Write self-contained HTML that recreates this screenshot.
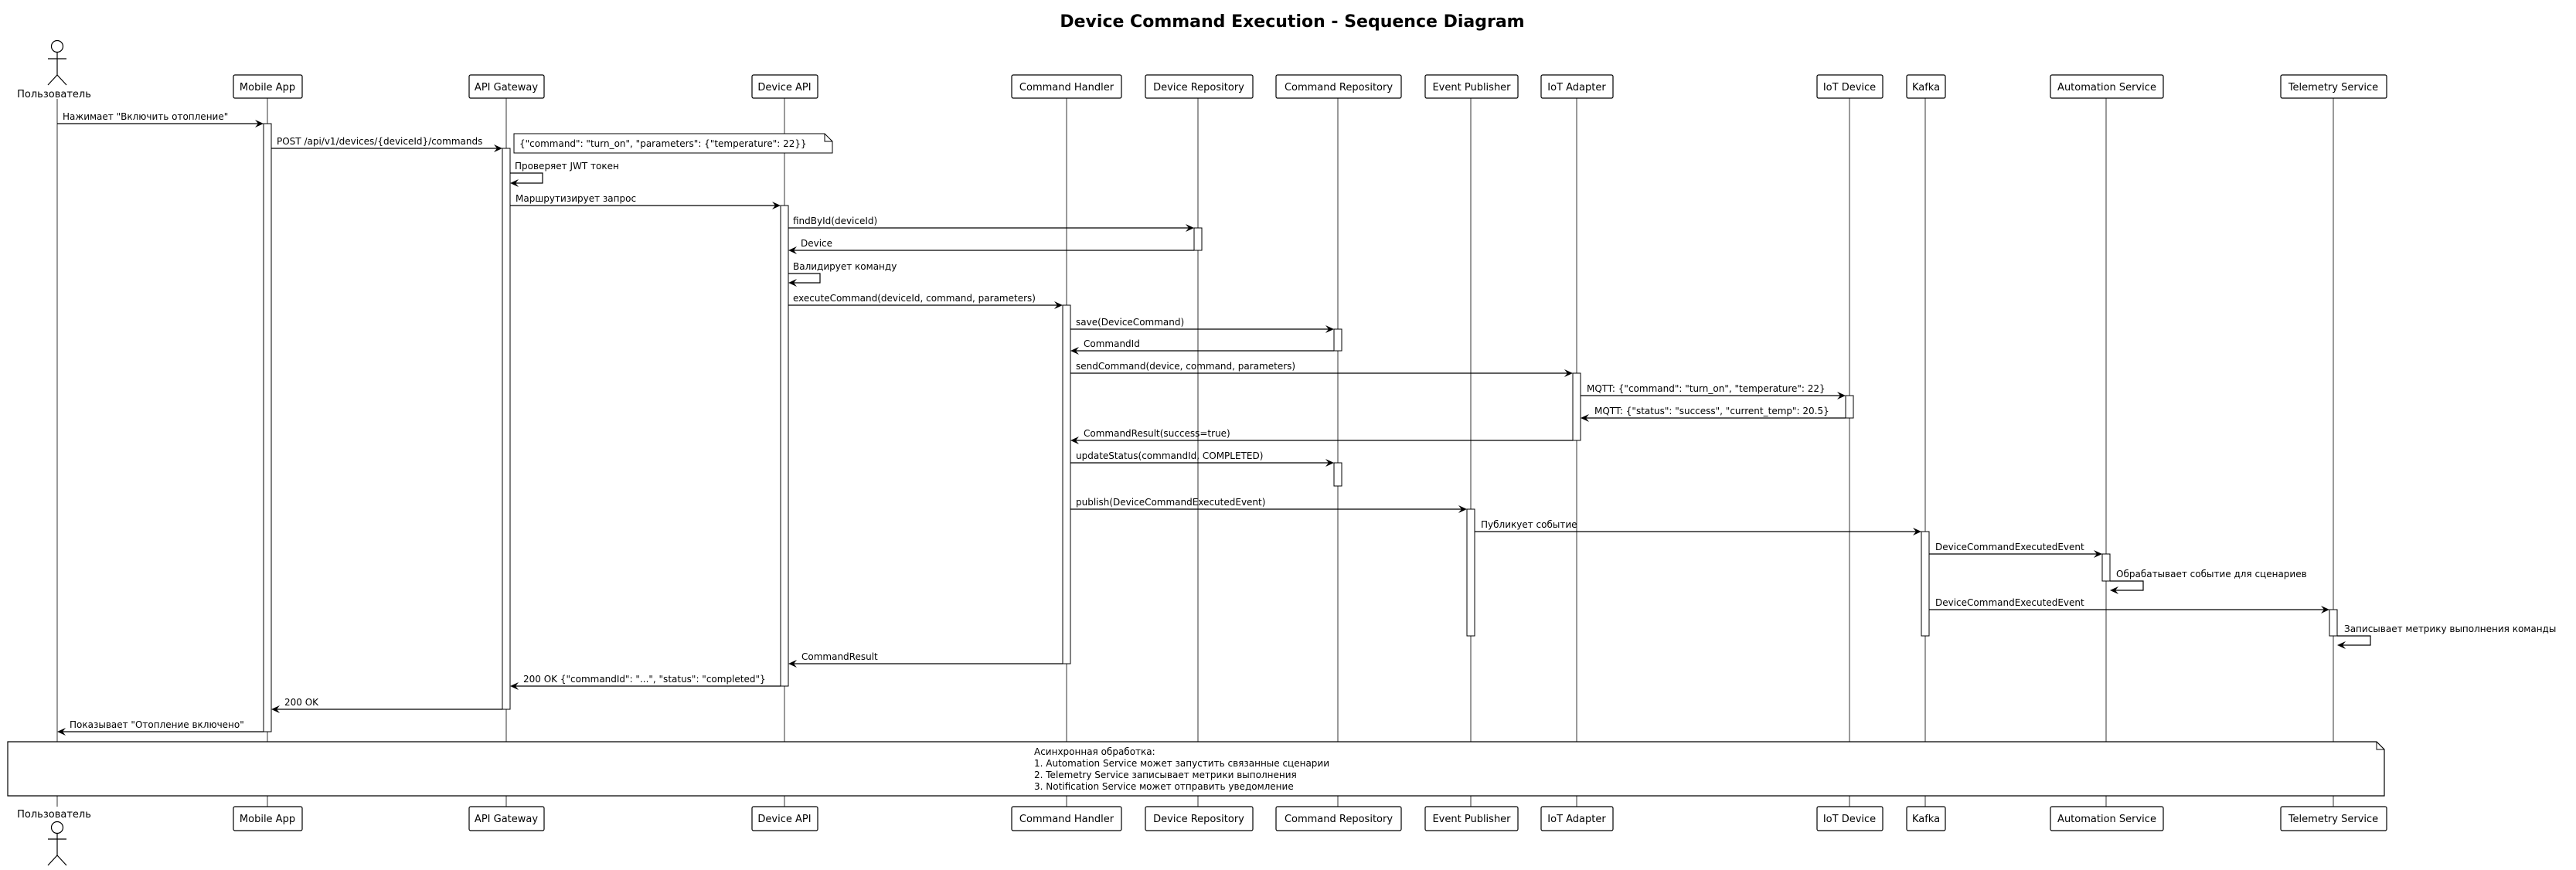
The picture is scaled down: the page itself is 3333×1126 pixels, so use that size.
<!DOCTYPE html>
<html><head><meta charset="utf-8"><style>
html,body{margin:0;padding:0;background:#fff;}
svg{display:block;}
text{font-family:"DejaVu Sans","Liberation Sans",sans-serif;font-size:12px;fill:#000;}
.t{font-size:22px;font-weight:bold;}
.p{font-size:13px;}
.ll{stroke:#000;stroke-width:0.8;}
.box{fill:#fff;stroke:#000;stroke-width:1.2;}
.act{fill:#fff;stroke:#000;stroke-width:1;}
.m{stroke:#000;stroke-width:1.2;fill:none;}
.ah{fill:#000;}
</style></head><body>
<svg width="3333" height="1126" viewBox="0 0 3333 1126" xmlns="http://www.w3.org/2000/svg">
<text class="t" x="1672" y="35" text-anchor="middle">Device Command Execution - Sequence Diagram</text>

<!-- lifelines -->
<g class="ll">
<line x1="74" y1="128" x2="74" y2="1044"/>
<line x1="346" y1="127" x2="346" y2="1044"/>
<line x1="655" y1="127" x2="655" y2="1044"/>
<line x1="1015" y1="127" x2="1015" y2="1044"/>
<line x1="1380" y1="127" x2="1380" y2="1044"/>
<line x1="1550" y1="127" x2="1550" y2="1044"/>
<line x1="1731" y1="127" x2="1731" y2="1044"/>
<line x1="1903" y1="127" x2="1903" y2="1044"/>
<line x1="2040" y1="127" x2="2040" y2="1044"/>
<line x1="2393" y1="127" x2="2393" y2="1044"/>
<line x1="2491" y1="127" x2="2491" y2="1044"/>
<line x1="2725" y1="127" x2="2725" y2="1044"/>
<line x1="3019" y1="127" x2="3019" y2="1044"/>
</g>

<!-- actor top -->
<g fill="none" stroke="#000" stroke-width="1.2">
<circle cx="74" cy="60" r="7.5" fill="#fff"/>
<line x1="74" y1="68" x2="74" y2="97"/>
<line x1="62" y1="76" x2="86" y2="76"/>
<line x1="74" y1="97" x2="62" y2="110"/>
<line x1="74" y1="97" x2="86" y2="110"/>
</g>
<text class="p" x="70" y="126" text-anchor="middle">Пользователь</text>
<!-- actor bottom -->
<text class="p" x="70" y="1058" text-anchor="middle">Пользователь</text>
<g fill="none" stroke="#000" stroke-width="1.2">
<circle cx="74" cy="1071" r="7.5" fill="#fff"/>
<line x1="74" y1="1079" x2="74" y2="1107"/>
<line x1="62" y1="1086" x2="86" y2="1086"/>
<line x1="74" y1="1107" x2="62" y2="1120"/>
<line x1="74" y1="1107" x2="86" y2="1120"/>
</g>

<!-- participant boxes top & bottom -->
<g>
<rect class="box" x="302" y="97" width="89" height="30" rx="2"/><text class="p" x="346" y="117" text-anchor="middle">Mobile App</text>
<rect class="box" x="607" y="97" width="97" height="30" rx="2"/><text class="p" x="655" y="117" text-anchor="middle">API Gateway</text>
<rect class="box" x="973" y="97" width="85" height="30" rx="2"/><text class="p" x="1015" y="117" text-anchor="middle">Device API</text>
<rect class="box" x="1309" y="97" width="142" height="30" rx="2"/><text class="p" x="1380" y="117" text-anchor="middle">Command Handler</text>
<rect class="box" x="1482" y="97" width="139" height="30" rx="2"/><text class="p" x="1551" y="117" text-anchor="middle">Device Repository</text>
<rect class="box" x="1651" y="97" width="162" height="30" rx="2"/><text class="p" x="1732" y="117" text-anchor="middle">Command Repository</text>
<rect class="box" x="1844" y="97" width="120" height="30" rx="2"/><text class="p" x="1904" y="117" text-anchor="middle">Event Publisher</text>
<rect class="box" x="1994" y="97" width="93" height="30" rx="2"/><text class="p" x="2040" y="117" text-anchor="middle">IoT Adapter</text>
<rect class="box" x="2351" y="97" width="85" height="30" rx="2"/><text class="p" x="2393" y="117" text-anchor="middle">IoT Device</text>
<rect class="box" x="2467" y="97" width="50" height="30" rx="2"/><text class="p" x="2492" y="117" text-anchor="middle">Kafka</text>
<rect class="box" x="2653" y="97" width="146" height="30" rx="2"/><text class="p" x="2726" y="117" text-anchor="middle">Automation Service</text>
<rect class="box" x="2951" y="97" width="137" height="30" rx="2"/><text class="p" x="3019" y="117" text-anchor="middle">Telemetry Service</text>

<rect class="box" x="302" y="1044" width="89" height="31" rx="2"/><text class="p" x="346" y="1064" text-anchor="middle">Mobile App</text>
<rect class="box" x="607" y="1044" width="97" height="31" rx="2"/><text class="p" x="655" y="1064" text-anchor="middle">API Gateway</text>
<rect class="box" x="973" y="1044" width="85" height="31" rx="2"/><text class="p" x="1015" y="1064" text-anchor="middle">Device API</text>
<rect class="box" x="1309" y="1044" width="142" height="31" rx="2"/><text class="p" x="1380" y="1064" text-anchor="middle">Command Handler</text>
<rect class="box" x="1482" y="1044" width="139" height="31" rx="2"/><text class="p" x="1551" y="1064" text-anchor="middle">Device Repository</text>
<rect class="box" x="1651" y="1044" width="162" height="31" rx="2"/><text class="p" x="1732" y="1064" text-anchor="middle">Command Repository</text>
<rect class="box" x="1844" y="1044" width="120" height="31" rx="2"/><text class="p" x="1904" y="1064" text-anchor="middle">Event Publisher</text>
<rect class="box" x="1994" y="1044" width="93" height="31" rx="2"/><text class="p" x="2040" y="1064" text-anchor="middle">IoT Adapter</text>
<rect class="box" x="2351" y="1044" width="85" height="31" rx="2"/><text class="p" x="2393" y="1064" text-anchor="middle">IoT Device</text>
<rect class="box" x="2467" y="1044" width="50" height="31" rx="2"/><text class="p" x="2492" y="1064" text-anchor="middle">Kafka</text>
<rect class="box" x="2653" y="1044" width="146" height="31" rx="2"/><text class="p" x="2726" y="1064" text-anchor="middle">Automation Service</text>
<rect class="box" x="2951" y="1044" width="137" height="31" rx="2"/><text class="p" x="3019" y="1064" text-anchor="middle">Telemetry Service</text>
</g>

<!-- activations -->
<g class="act">
<rect x="341" y="160" width="10" height="787"/>
<rect x="650" y="192" width="10" height="726"/>
<rect x="1010" y="266" width="10" height="622"/>
<rect x="1545" y="295" width="10" height="29"/>
<rect x="1375" y="395" width="10" height="464"/>
<rect x="1726" y="426" width="10" height="28"/>
<rect x="1726" y="599" width="10" height="30"/>
<rect x="2035" y="483" width="10" height="87"/>
<rect x="2388" y="512" width="10" height="29"/>
<rect x="1898" y="659" width="10" height="164"/>
<rect x="2486" y="688" width="10" height="135"/>
<rect x="2720" y="717" width="10" height="35"/>
<rect x="3014" y="789" width="10" height="34"/>
</g>

<!-- top note -->
<path d="M665,173 L1067,173 L1077,183 L1077,198 L665,198 Z" fill="#fff" stroke="#000" stroke-width="1"/>
<path d="M1067,173 L1067,183 L1077,183" fill="none" stroke="#000" stroke-width="1"/>
<text x="672" y="190">{"command": "turn_on", "parameters": {"temperature": 22}}</text>

<!-- messages -->
<g class="m">
<line x1="74" y1="160" x2="339" y2="160"/>
<line x1="351" y1="192" x2="648" y2="192"/>
<polyline points="660,224 702,224 702,237 662,237"/>
<line x1="660" y1="266" x2="1008" y2="266"/>
<line x1="1020" y1="295" x2="1543" y2="295"/>
<line x1="1545" y1="324" x2="1022" y2="324"/>
<polyline points="1020,354 1061,354 1061,366 1022,366"/>
<line x1="1020" y1="395" x2="1373" y2="395"/>
<line x1="1385" y1="426" x2="1724" y2="426"/>
<line x1="1726" y1="454" x2="1387" y2="454"/>
<line x1="1385" y1="483" x2="2033" y2="483"/>
<line x1="2045" y1="512" x2="2386" y2="512"/>
<line x1="2388" y1="541" x2="2047" y2="541"/>
<line x1="2035" y1="570" x2="1387" y2="570"/>
<line x1="1385" y1="599" x2="1724" y2="599"/>
<line x1="1385" y1="659" x2="1896" y2="659"/>
<line x1="1908" y1="688" x2="2484" y2="688"/>
<line x1="2496" y1="717" x2="2718" y2="717"/>
<polyline points="2730,752 2773,752 2773,764 2732,764"/>
<line x1="2496" y1="789" x2="3012" y2="789"/>
<polyline points="3024,823 3067,823 3067,835 3026,835"/>
<line x1="1375" y1="859" x2="1022" y2="859"/>
<line x1="1010" y1="888" x2="662" y2="888"/>
<line x1="650" y1="918" x2="353" y2="918"/>
<line x1="341" y1="947" x2="76" y2="947"/>
</g>

<!-- arrowheads: right -->
<g class="ah">
<polygon points="341,160 330,155 334,160 330,165"/>
<polygon points="650,192 639,187 643,192 639,197"/>
<polygon points="1010,266 999,261 1003,266 999,271"/>
<polygon points="1545,295 1534,290 1538,295 1534,300"/>
<polygon points="1375,395 1364,390 1368,395 1364,400"/>
<polygon points="1726,426 1715,421 1719,426 1715,431"/>
<polygon points="2035,483 2024,478 2028,483 2024,488"/>
<polygon points="2388,512 2377,507 2381,512 2377,517"/>
<polygon points="1726,599 1715,594 1719,599 1715,604"/>
<polygon points="1898,659 1887,654 1891,659 1887,664"/>
<polygon points="2486,688 2475,683 2479,688 2475,693"/>
<polygon points="2720,717 2709,712 2713,717 2709,722"/>
<polygon points="3014,789 3003,784 3007,789 3003,794"/>
<!-- left -->
<polygon points="660,237 671,232 667,237 671,242"/>
<polygon points="1020,324 1031,319 1027,324 1031,329"/>
<polygon points="1020,366 1031,361 1027,366 1031,371"/>
<polygon points="1385,454 1396,449 1392,454 1396,459"/>
<polygon points="2045,541 2056,536 2052,541 2056,546"/>
<polygon points="1385,570 1396,565 1392,570 1396,575"/>
<polygon points="2730,764 2741,759 2737,764 2741,769"/>
<polygon points="3024,835 3035,830 3031,835 3035,840"/>
<polygon points="1020,859 1031,854 1027,859 1031,864"/>
<polygon points="660,888 671,883 667,888 671,893"/>
<polygon points="351,918 362,913 358,918 362,923"/>
<polygon points="74,947 85,942 81,947 85,952"/>
</g>

<!-- labels -->
<g>
<text x="81" y="155">Нажимает "Включить отопление"</text>
<text x="358" y="187">POST /api/v1/devices/{deviceId}/commands</text>
<text x="666" y="219">Проверяет JWT токен</text>
<text x="667" y="261">Маршрутизирует запрос</text>
<text x="1026" y="290">findById(deviceId)</text>
<text x="1036" y="319">Device</text>
<text x="1026" y="349">Валидирует команду</text>
<text x="1026" y="390">executeCommand(deviceId, command, parameters)</text>
<text x="1392" y="421">save(DeviceCommand)</text>
<text x="1402" y="449">CommandId</text>
<text x="1392" y="478">sendCommand(device, command, parameters)</text>
<text x="2053" y="507">MQTT: {"command": "turn_on", "temperature": 22}</text>
<text x="2063" y="536">MQTT: {"status": "success", "current_temp": 20.5}</text>
<text x="1402" y="565">CommandResult(success=true)</text>
<text x="1392" y="594">updateStatus(commandId, COMPLETED)</text>
<text x="1392" y="654">publish(DeviceCommandExecutedEvent)</text>
<text x="1916" y="683">Публикует событие</text>
<text x="2504" y="712">DeviceCommandExecutedEvent</text>
<text x="2738" y="747">Обрабатывает событие для сценариев</text>
<text x="2504" y="784">DeviceCommandExecutedEvent</text>
<text x="3033" y="818">Записывает метрику выполнения команды</text>
<text x="1037" y="854">CommandResult</text>
<text x="677" y="883">200 OK {"commandId": "...", "status": "completed"}</text>
<text x="368" y="913">200 OK</text>
<text x="90" y="942">Показывает "Отопление включено"</text>
</g>

<!-- bottom note -->
<path d="M10,960 L3075,960 L3085,970 L3085,1030 L10,1030 Z" fill="#fff" stroke="#000" stroke-width="1.2"/>
<path d="M3075,960 L3075,970 L3085,970" fill="none" stroke="#000" stroke-width="1"/>
<text x="1338" y="977">Асинхронная обработка:</text>
<text x="1338" y="992">1. Automation Service может запустить связанные сценарии</text>
<text x="1338" y="1007">2. Telemetry Service записывает метрики выполнения</text>
<text x="1338" y="1022">3. Notification Service может отправить уведомление</text>
</svg>
</body></html>
